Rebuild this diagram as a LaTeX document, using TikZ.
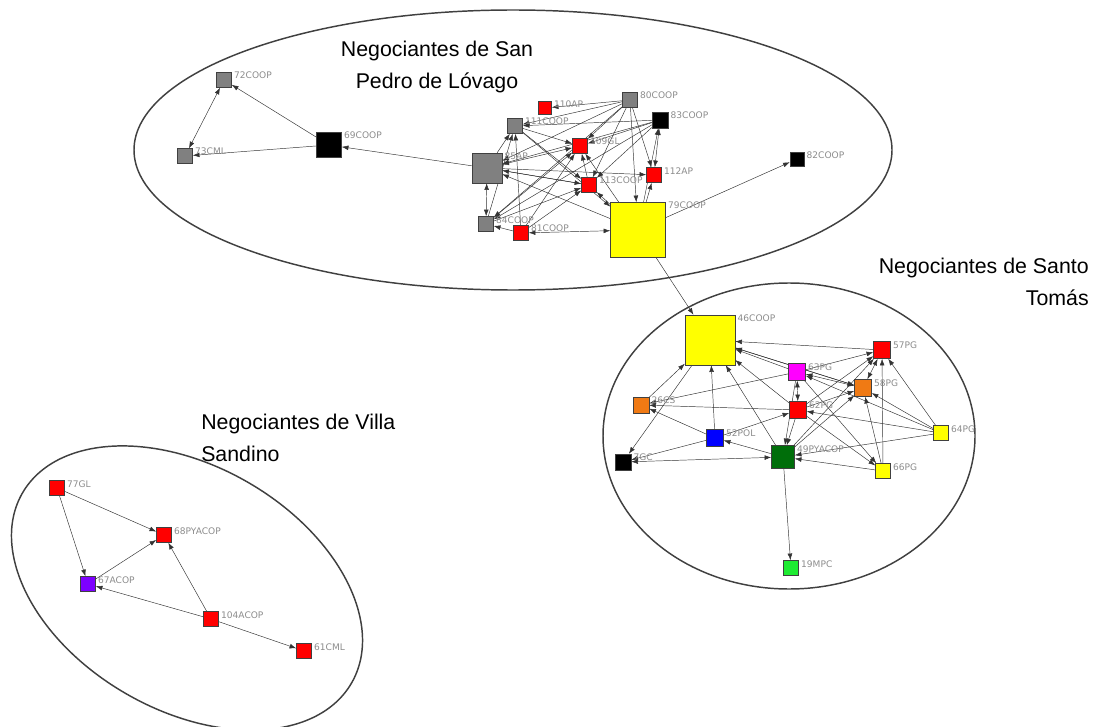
\documentclass[tikz,border=0pt]{standalone}
\usepackage{fontspec}
\setmainfont{Liberation Sans}
\newfontfamily\lblfont{DejaVu Sans}
\usetikzlibrary{arrows.meta,backgrounds}
\definecolor{ndgray}{RGB}{128,128,128}
\definecolor{ndred}{RGB}{255,0,0}
\definecolor{ndyellow}{RGB}{255,255,0}
\definecolor{ndmag}{RGB}{255,0,255}
\definecolor{ndorange}{RGB}{240,122,20}
\definecolor{ndblue}{RGB}{0,0,255}
\definecolor{nddkgreen}{RGB}{0,110,10}
\definecolor{ndlime}{RGB}{30,235,50}
\definecolor{ndpurple}{RGB}{125,0,255}
\definecolor{lbltxt}{RGB}{140,140,140}

\begin{document}
\begin{tikzpicture}[x=0.75pt,y=-0.75pt,
  nd/.style={draw=black!75,line width=0.4pt,inner sep=0pt},
  lbl/.style={font=\lblfont\fontsize{6.8}{8}\selectfont,text=lbltxt,inner sep=0pt,anchor=west,xshift=1.6pt,yshift=-2.6pt},
  ttl/.style={font=\fontsize{16}{24.5}\selectfont,inner sep=0pt},
  grp/.style={draw=black!75,line width=1.1pt},
  ed/.style={draw=black!80,line width=0.35pt,-{Latex[length=5pt,width=3.6pt]}},
  bi/.style={ed,{Latex[length=5pt,width=3.6pt]}-{Latex[length=5pt,width=3.6pt]}}]
\useasboundingbox (0,0) rectangle (1095,727);

\foreach \n/\x/\y/\s/\c in %
{72COOP/224/80/15/ndgray,73CML/185/156/15/ndgray,69COOP/329/145/25/black,
 85AP/487/168/30/ndgray,111COOP/515/126/15/ndgray,110AP/545/108/13/ndred,
 80COOP/630/100/15/ndgray,83COOP/660/120/16/black,109GL/580/146/15/ndred,
 112AP/654/175/15/ndred,113COOP/589/185/15/ndred,79COOP/638/230/55/ndyellow,
 84COOP/486/224/15/ndgray,81COOP/521/233/15/ndred,82COOP/797/159/14/black,
 46COOP/710/340/50/ndyellow,57PG/882/350/17/ndred,63PG/797/372/17/ndmag,
 58PG/863/388/17/ndorange,62PG/798/410/17/ndred,26CS/641/405/16/ndorange,
 52POL/715/438/17/ndblue,7GC/623/462/16/black,49PYACOP/783/457/23/nddkgreen,
 64PG/941/433/15/ndyellow,66PG/883/471/15/ndyellow,19MPC/791/568/15/ndlime,
 77GL/57/488/15/ndred,68PYACOP/164/535/15/ndred,67ACOP/88/584/15/ndpurple,
 104ACOP/211/619/15/ndred,61CML/304/651/15/ndred} {
   \node[nd,fill=\c,minimum size=\s*0.75pt,label={[lbl,name=l\n]north east:\n}] (\n) at (\x,\y) {};
}

\node[ttl,align=center] (tSP) at (437,67) {Negociantes de San\\Pedro de Lóvago};
\node[ttl,align=right,anchor=east] (tST) at (1089,282) {Negociantes de Santo\\Tomás};
\node[ttl,align=left,anchor=west] (tVS) at (201,438) {Negociantes de Villa\\Sandino};

\begin{scope}[on background layer]
\draw[grp] (513,150) ellipse [x radius=379, y radius=140];
\draw[grp] (789,436) ellipse [x radius=186, y radius=153];
\draw[grp,rotate around={-30:(187,588)}] (187,588) ellipse [x radius=190, y radius=122];

\foreach \a/\b in %
{69COOP/72COOP,69COOP/73CML,85AP/69COOP,79COOP/82COOP,79COOP/46COOP,
 80COOP/110AP,80COOP/111COOP,80COOP/85AP,80COOP/109GL,80COOP/113COOP,
 80COOP/112AP,80COOP/79COOP,80COOP/84COOP,83COOP/111COOP,83COOP/109GL,
 83COOP/85AP,83COOP/113COOP,83COOP/84COOP,79COOP/83COOP,85AP/111COOP,
 85AP/113COOP,85AP/112AP,113COOP/109GL,84COOP/109GL,84COOP/113COOP,
 84COOP/111COOP,81COOP/84COOP,81COOP/109GL,81COOP/113COOP,81COOP/111COOP,
 111COOP/109GL,111COOP/113COOP,111COOP/79COOP,79COOP/112AP,79COOP/113COOP,
 79COOP/109GL,79COOP/85AP,113COOP/85AP,
 57PG/46COOP,63PG/46COOP,58PG/46COOP,62PG/46COOP,26CS/46COOP,52POL/46COOP,
 49PYACOP/46COOP,46COOP/7GC,63PG/26CS,62PG/26CS,52POL/26CS,49PYACOP/52POL,
 52POL/62PG,52POL/7GC,49PYACOP/19MPC,62PG/49PYACOP,63PG/49PYACOP,
 66PG/49PYACOP,64PG/49PYACOP,64PG/62PG,64PG/58PG,64PG/57PG,64PG/63PG,
 66PG/58PG,66PG/57PG,62PG/66PG,63PG/66PG,62PG/58PG,62PG/57PG,
 49PYACOP/58PG,49PYACOP/57PG,63PG/57PG,46COOP/58PG,
 77GL/68PYACOP,77GL/67ACOP,67ACOP/68PYACOP,104ACOP/68PYACOP,
 104ACOP/67ACOP,104ACOP/61CML} {
   \draw[ed] (\a) -- (\b);
}
\foreach \a/\b in %
{72COOP/73CML,83COOP/112AP,85AP/109GL,85AP/84COOP,81COOP/79COOP,
 7GC/49PYACOP,62PG/63PG,58PG/57PG,63PG/58PG} {
   \draw[bi] (\a) -- (\b);
}
\end{scope}
\end{tikzpicture}
\end{document}
